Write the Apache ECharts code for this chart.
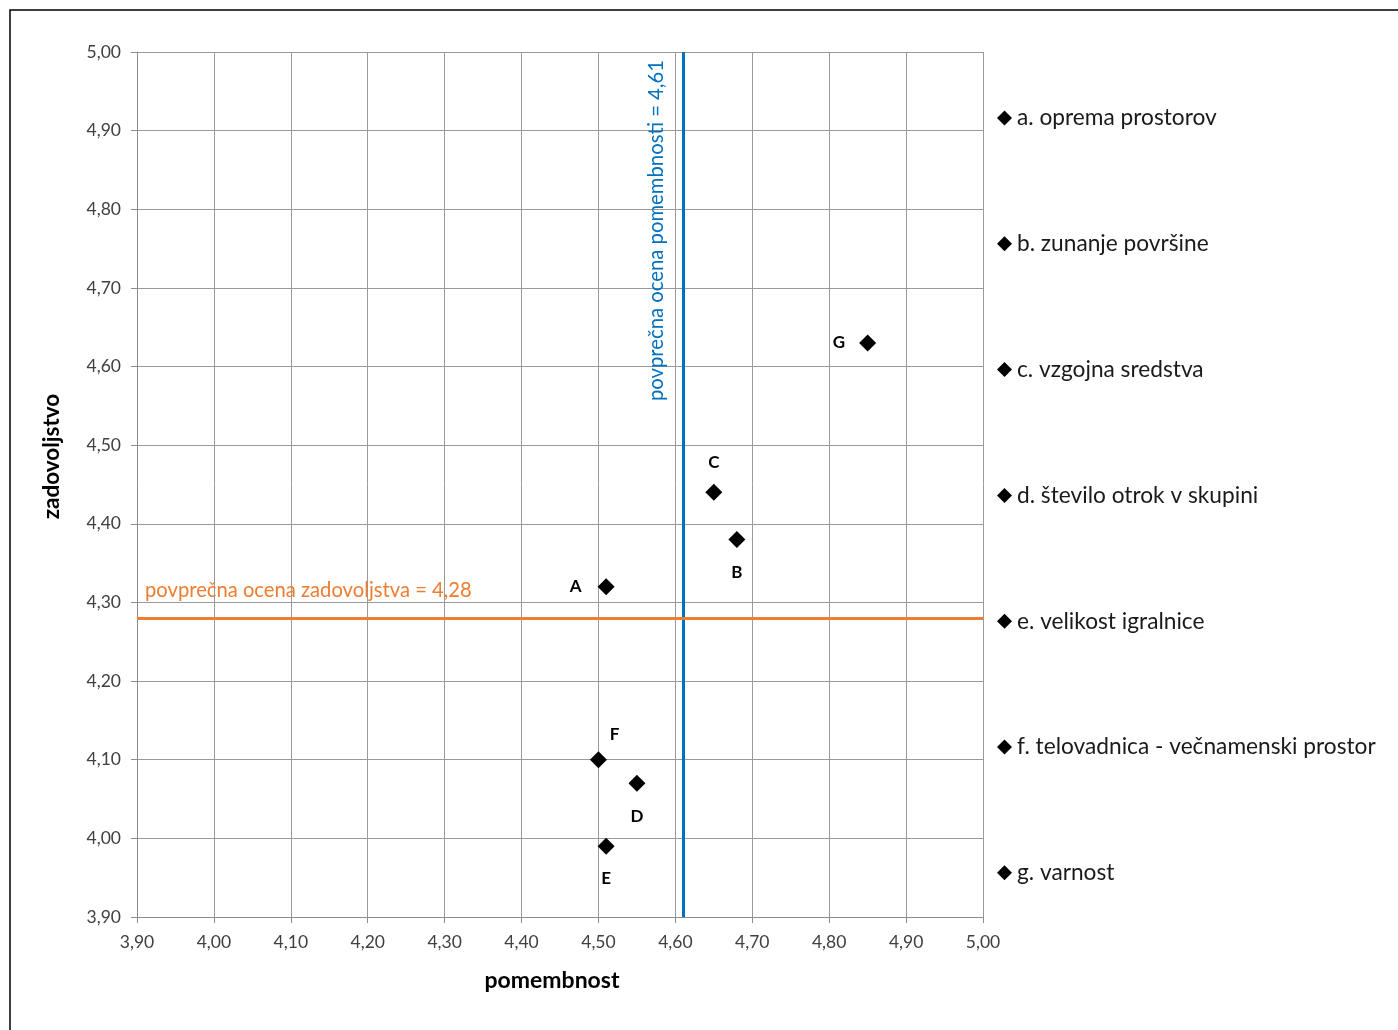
<!DOCTYPE html>
<html><head><meta charset="utf-8">
<script src="https://cdn.jsdelivr.net/npm/echarts@6/dist/echarts.min.js"></script>
<style>html,body{margin:0;padding:0;background:#fff}#c{width:1398px;height:1030px}</style>
</head><body><div id="c"></div>
<script>
const seriesNames = ['a. oprema prostorov','b. zunanje površine','c. vzgojna sredstva','d. število otrok v skupini','e. velikost igralnice','f. telovadnica - večnamenski prostor','g. varnost'];
const pointLabels = ['A','B','C','D','E','F','G'];
const pomembnost = [4.51, 4.68, 4.65, 4.55, 4.51, 4.50, 4.85];
const zadovoljstvo = [4.32, 4.38, 4.44, 4.07, 3.99, 4.10, 4.63];
const avgPomembnost = 4.614;
const avgZadovoljstvo = 4.278;
const xTicks = {min: 3.9, max: 5.0, step: 0.1};
const yTicks = {min: 3.9, max: 5.0, step: 0.1};

const FONT = 'Lato, "Open Sans", sans-serif';
const fmt = v => v.toFixed(2).replace('.', ',');
const labelPos = {
  A: {position: 'left', distance: 16},
  B: {position: 'bottom', distance: 16},
  C: {position: 'top', distance: 13},
  D: {position: 'bottom', distance: 16},
  E: {position: 'bottom', distance: 15},
  F: {position: 'top', distance: 8, offset: [16, 0]},
  G: {position: 'left', distance: 14}
};

const series = seriesNames.map((name, i) => ({
  name: name,
  type: 'scatter',
  symbol: 'diamond',
  symbolSize: 17,
  itemStyle: {color: '#000', opacity: 1},
  data: [[pomembnost[i], zadovoljstvo[i]]],
  label: Object.assign({
    show: true,
    formatter: pointLabels[i],
    fontFamily: FONT, fontWeight: 'bold', fontSize: 17, color: '#000'
  }, labelPos[pointLabels[i]]),
  z: 5
}));

series.push({
  name: 'avg',
  type: 'scatter',
  data: [],
  silent: true,
  markLine: {
    symbol: 'none',
    silent: true,
    animation: false,
    data: [
      {xAxis: avgPomembnost,
       lineStyle: {color: '#0070C0', width: 3, type: 'solid'},
       label: {show: true, position: 'insideEndTop', formatter: 'povprečna ocena pomembnosti = ' + fmt(avgPomembnost),
         color: '#0070C0', fontFamily: FONT, fontSize: 20.3, distance: [8, 17]}},
      {yAxis: avgZadovoljstvo,
       lineStyle: {color: '#ED7D31', width: 3, type: 'solid'},
       label: {show: true, position: 'insideStartTop', formatter: 'povprečna ocena zadovoljstva = ' + fmt(avgZadovoljstvo),
         color: '#ED7D31', fontFamily: FONT, fontSize: 20.2, distance: [8, 18]}}
    ]
  }
});

const axisCommon = {
  type: 'value',
  interval: 0.1,
  axisLine: {show: true, lineStyle: {color: '#8c8c8c', width: 1}},
  axisTick: {show: true, length: 6, lineStyle: {color: '#8c8c8c'}},
  splitLine: {show: true, lineStyle: {color: '#9a9a9a', width: 1}},
  axisLabel: {formatter: fmt, fontFamily: FONT, fontSize: 17.5, color: '#404040'},
  nameTextStyle: {fontFamily: FONT, fontSize: 23, fontWeight: 'bold', color: '#000'},
  nameLocation: 'middle'
};

const option = {
  animation: false,
  backgroundColor: '#fff',
  grid: {left: 137, right: 415, top: 52, bottom: 113, containLabel: false},
  xAxis: Object.assign({}, axisCommon, {min: xTicks.min, max: xTicks.max, name: 'pomembnost', nameGap: 52,
    nameTextStyle: Object.assign({}, axisCommon.nameTextStyle, {padding: [0, 16, 0, 0]}),
    axisLabel: Object.assign({}, axisCommon.axisLabel, {margin: 16})}),
  yAxis: Object.assign({}, axisCommon, {min: yTicks.min, max: yTicks.max, name: 'zadovoljstvo', nameGap: 74,
    nameTextStyle: Object.assign({}, axisCommon.nameTextStyle, {fontSize: 22.5, padding: [0, 0, 0, 56]}),
    axisLabel: Object.assign({}, axisCommon.axisLabel, {margin: 16})}),
  legend: {
    orient: 'vertical',
    left: 997,
    top: 106,
    padding: 0,
    data: seriesNames,
    icon: 'diamond',
    itemWidth: 15,
    itemHeight: 15,
    itemGap: 101.8,
    itemStyle: {opacity: 1},
    textStyle: {fontFamily: FONT, fontSize: 22.7, color: '#1a1a1a', lineHeight: 24},
    selectedMode: false
  },
  graphic: [{
    type: 'rect', silent: true,
    shape: {x: 10, y: 10, width: 1400, height: 1040},
    style: {fill: 'none', stroke: '#000', lineWidth: 1.5}
  }],
  series: series
};
echarts.init(document.getElementById('c'), null, {renderer: 'canvas'}).setOption(option);
</script></body></html>
